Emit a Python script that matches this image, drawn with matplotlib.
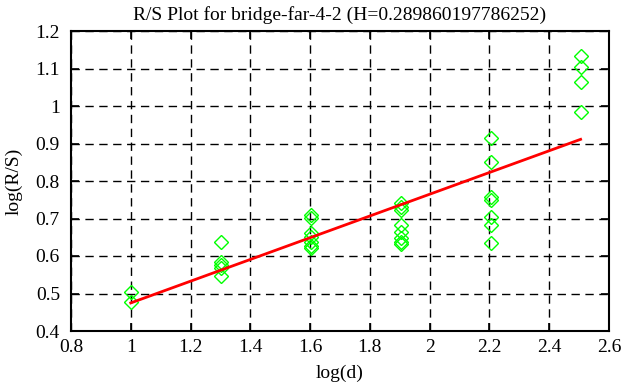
# R/S plot (gnuplot-like) for bridge-far-4-2
import matplotlib.pyplot as plt
import numpy as np

plt.rcParams['font.family'] = ['Liberation Serif', 'DejaVu Serif']

# log(d) values and log(R/S) observations at each scale
log_d = [1.0, 1.301, 1.602, 1.903, 2.204, 2.505]
log_rs = [
    [0.504, 0.477],
    [0.638, 0.585, 0.577, 0.569, 0.548],
    [0.709, 0.702, 0.661, 0.650, 0.638, 0.628, 0.622],
    [0.742, 0.732, 0.724, 0.683, 0.665, 0.648, 0.638, 0.632],
    [0.914, 0.851, 0.758, 0.750, 0.705, 0.683, 0.634],
    [1.134, 1.105, 1.065, 0.985],
]

H = 0.289860197786252
intercept = 0.185
title = "R/S Plot for bridge-far-4-2 (H=0.289860197786252)"

xs = [x for x, ys in zip(log_d, log_rs) for _ in ys]
ys = [y for ys_ in log_rs for y in ys_]

fig = plt.figure(figsize=(6.26, 3.87), dpi=100)
ax = fig.add_axes([71/626, 1-331/387, 538/626, 300/387])

ax.plot(xs, ys, linestyle='none', marker='D', markersize=7.5,
        markerfacecolor='none', markeredgecolor='#00ff00', markeredgewidth=1.0)

fx = np.array([log_d[0], log_d[-1]])
ax.plot(fx, intercept + H * fx, color='#ff0000', linewidth=2)

ax.set_xlim(0.8, 2.6)
ax.set_ylim(0.4, 1.2)
ax.set_xticks(np.arange(0.8, 2.61, 0.2))
ax.set_yticks(np.arange(0.4, 1.21, 0.1))
ax.set_xticklabels(['0.8', '1', '1.2', '1.4', '1.6', '1.8', '2', '2.2', '2.4', '2.6'])
ax.set_yticklabels(['0.4', '0.5', '0.6', '0.7', '0.8', '0.9', '1', '1.1', '1.2'])
ax.tick_params(direction='in', length=6, width=1.2, labelsize=14, top=True, right=True,
               labeltop=False, labelright=False)
ax.tick_params(axis='x', pad=6)
ax.tick_params(axis='y', pad=8)
ax.grid(True, color='black', linestyle=(0, (6, 4)), linewidth=1)
for s in ax.spines.values():
    s.set_linewidth(1.5)

ax.set_title(title, fontsize=14, pad=8)
ax.set_xlabel('log(d)', fontsize=14, labelpad=6)
ax.set_ylabel('log(R/S)', fontsize=14, labelpad=9)

plt.savefig('out.png', dpi=100)
